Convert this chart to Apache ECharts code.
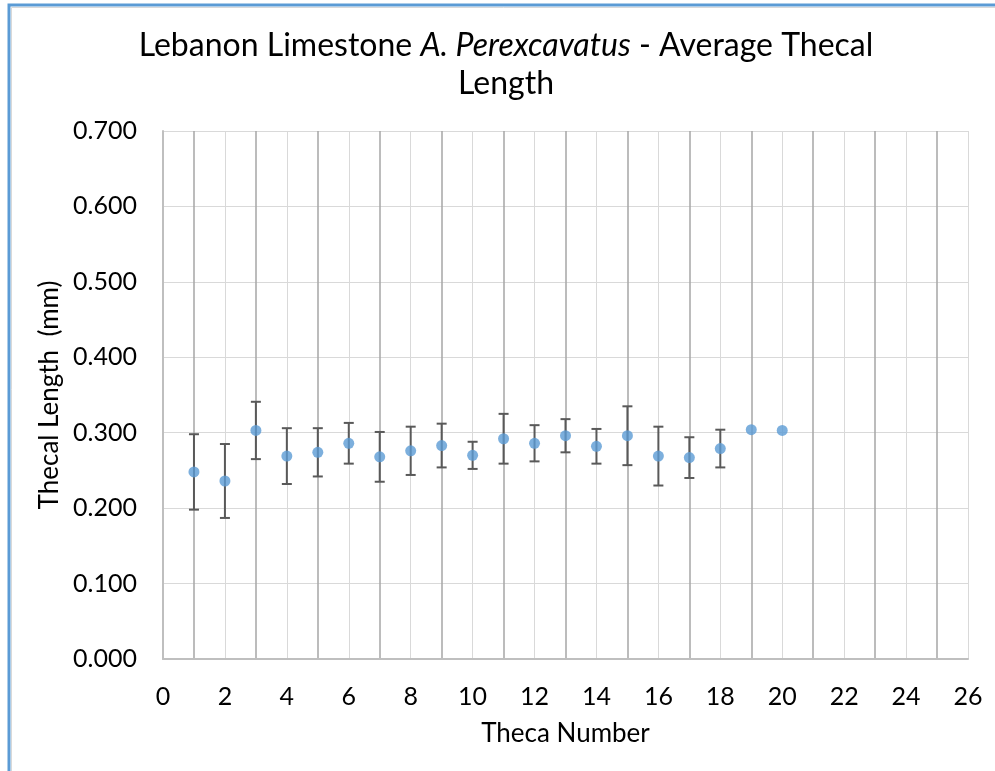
<!DOCTYPE html>
<html>
<head>
<meta charset="utf-8">
<script src="https://cdn.jsdelivr.net/npm/echarts@6/dist/echarts.min.js"></script>
<style>
  html, body { margin: 0; padding: 0; background: #ffffff; }
  #chart { width: 995px; height: 771px; }
</style>
</head>
<body>
<div id="chart"></div>
<script>
// Theca number along the colony
const thecaNumbers = [1, 2, 3, 4, 5, 6, 7, 8, 9, 10, 11, 12, 13, 14, 15, 16, 17, 18, 19, 20];
// Average thecal length (mm)
const meanLengths = [0.248, 0.236, 0.303, 0.269, 0.274, 0.286, 0.268, 0.276, 0.283, 0.270,
                     0.292, 0.286, 0.296, 0.282, 0.296, 0.269, 0.267, 0.279, 0.304, 0.303];
// Error bar half-widths (mm); the last two thecae have a single measurement
const errorSizes = [0.050, 0.049, 0.038, 0.037, 0.032, 0.027, 0.033, 0.032, 0.029, 0.018,
                    0.033, 0.024, 0.022, 0.023, 0.039, 0.039, 0.027, 0.025, null, null];

const xTicks = { min: 0, max: 26, interval: 2 };
const yTicks = { min: 0, max: 0.7, interval: 0.1 };

const pointData = thecaNumbers.map((n, i) => [n, meanLengths[i]]);
const errorData = thecaNumbers
  .map((n, i) => errorSizes[i] == null ? null : [n, meanLengths[i] - errorSizes[i], meanLengths[i] + errorSizes[i]])
  .filter(d => d !== null);

const FONT = 'Lato, "Open Sans", sans-serif';
const chart = echarts.init(document.getElementById('chart'), null, { renderer: 'canvas' });

chart.setOption({
  backgroundColor: '#ffffff',
  animation: false,
  title: {
    text: '{n|Lebanon Limestone }{i|A. Perexcavatus}{n| - Average Thecal}\n{n|Length}',
    left: 501,
    top: 22,
    textAlign: 'center',
    textStyle: {
      rich: {
        n: { fontFamily: FONT, fontSize: 32, fontWeight: 'normal', color: '#000000', lineHeight: 38 },
        i: { fontFamily: FONT, fontSize: 32, fontWeight: 'normal', color: '#000000', fontStyle: 'italic', lineHeight: 38 }
      }
    }
  },
  graphic: [
    {
      type: 'rect',
      shape: { x: 9, y: 5, width: 1200, height: 1000 },
      style: { fill: 'none', stroke: '#5b9bd5', lineWidth: 3 },
      silent: true
    },
    {
      type: 'rect',
      shape: { x: 11.5, y: 7.5, width: 1200, height: 1000 },
      style: { fill: 'none', stroke: '#d9d9d9', lineWidth: 1 },
      silent: true
    }
  ],
  grid: { left: 163, right: 27, top: 131, bottom: 112, containLabel: false },
  xAxis: {
    type: 'value',
    min: xTicks.min,
    max: xTicks.max,
    interval: xTicks.interval,
    name: 'Theca Number',
    nameLocation: 'middle',
    nameGap: 62,
    nameTextStyle: { fontFamily: FONT, fontSize: 26, color: '#000000' },
    axisLine: { show: true, lineStyle: { color: '#bfbfbf', width: 2 } },
    axisTick: { show: false },
    axisLabel: { fontFamily: FONT, fontSize: 25, color: '#000000', margin: 25 },
    splitLine: { show: true, lineStyle: { color: '#d9d9d9', width: 1 } },
    minorTick: { show: false, splitNumber: 2 },
    minorSplitLine: { show: true, lineStyle: { color: '#a6a6a6', width: 1.5 } }
  },
  yAxis: {
    type: 'value',
    min: yTicks.min,
    max: yTicks.max,
    interval: yTicks.interval,
    name: 'Thecal Length  (mm)',
    nameLocation: 'middle',
    nameGap: 99,
    nameRotate: 90,
    nameTextStyle: { fontFamily: FONT, fontSize: 26, color: '#000000' },
    axisLine: { show: true, lineStyle: { color: '#bfbfbf', width: 2 } },
    axisTick: { show: false },
    axisLabel: {
      fontFamily: FONT, fontSize: 25, color: '#000000', margin: 26,
      formatter: v => v.toFixed(3)
    },
    splitLine: { show: true, lineStyle: { color: '#d9d9d9', width: 1 } }
  },
  series: [
    {
      name: 'Error',
      type: 'custom',
      data: errorData,
      z: 2,
      renderItem: function (params, api) {
        const x = api.value(0);
        const lo = api.coord([x, api.value(1)]);
        const hi = api.coord([x, api.value(2)]);
        const cap = 5;
        const style = { stroke: '#595959', lineWidth: 2 };
        return {
          type: 'group',
          children: [
            { type: 'line', shape: { x1: lo[0], y1: lo[1], x2: hi[0], y2: hi[1] }, style: style },
            { type: 'line', shape: { x1: lo[0] - cap, y1: lo[1], x2: lo[0] + cap, y2: lo[1] }, style: style },
            { type: 'line', shape: { x1: hi[0] - cap, y1: hi[1], x2: hi[0] + cap, y2: hi[1] }, style: style }
          ]
        };
      }
    },
    {
      name: 'Average Thecal Length',
      type: 'scatter',
      data: pointData,
      z: 3,
      symbol: 'circle',
      symbolSize: 11,
      itemStyle: { color: '#5b9bd5' }
    }
  ]
});
</script>
</body>
</html>
